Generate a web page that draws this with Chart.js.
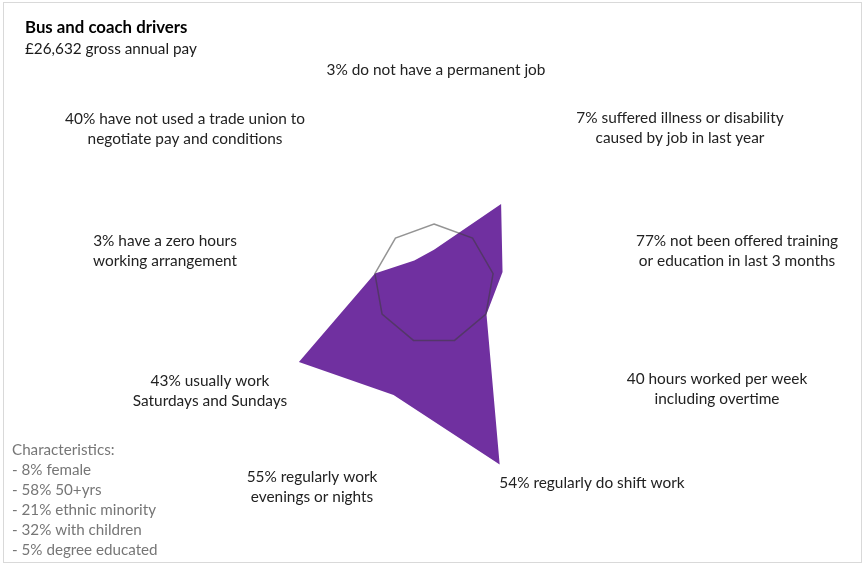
<!DOCTYPE html>
<html>
<head>
<meta charset="utf-8">
<script src="https://cdn.jsdelivr.net/npm/chart.js@4.4.1/dist/chart.umd.min.js"></script>
<style>
  html, body { margin: 0; padding: 0; background: #ffffff; }
  #wrap { position: relative; width: 864px; height: 565px; }
  canvas { display: block; }
</style>
</head>
<body>
<div id="wrap"><canvas id="radar" width="864" height="565"></canvas></div>
<script>
// Job-quality indicators, clockwise from the top
const categories = [
  ['3% do not have a permanent job'],
  ['7% suffered illness or disability', 'caused by job in last year'],
  ['77% not been offered training', 'or education in last 3 months'],
  ['40 hours worked per week', 'including overtime'],
  ['54% regularly do shift work'],
  ['55% regularly work', 'evenings or nights'],
  ['43% usually work', 'Saturdays and Sundays'],
  ['3% have a zero hours', 'working arrangement'],
  ['40% have not used a trade union to', 'negotiate pay and conditions']
];

// Occupation values relative to the all-jobs average (average = 1)
const occupationRelative = [0.57, 1.74, 1.16, 1.01, 3.2, 1.97, 2.6, 1.0, 0.51];
const averageRelative = [1, 1, 1, 1, 1, 1, 1, 1, 1];

const titleText = 'Bus and coach drivers';
const subtitleText = '£26,632 gross annual pay';
const characteristics = [
  'Characteristics:',
  '- 8% female',
  '- 58% 50+yrs',
  '- 21% ethnic minority',
  '- 32% with children',
  '- 5% degree educated'
];

// Where each indicator caption sits (centre of the text block)
const captionAnchors = [
  [436, 70], [680, 128], [737, 251], [717, 389], [592, 483],
  [312, 487], [210, 391], [165, 251], [185, 129]
];

const textFont = '"Lato", "Open Sans", sans-serif';

const annotations = {
  id: 'annotations',
  afterDraw(chart) {
    const ctx = chart.ctx;
    ctx.save();
    // frame
    ctx.strokeStyle = '#d9d9d9';
    ctx.lineWidth = 1;
    ctx.strokeRect(3.5, 2.5, 858, 560);

    // title block
    ctx.textAlign = 'left';
    ctx.textBaseline = 'middle';
    ctx.fillStyle = '#000000';
    ctx.font = 'bold 16.8px ' + textFont;
    ctx.fillText(titleText, 25, 28);
    ctx.fillStyle = '#1a1a1a';
    ctx.font = '15.3px ' + textFont;
    ctx.fillText(subtitleText, 25, 49);

    // indicator captions
    ctx.textAlign = 'center';
    ctx.fillStyle = '#222222';
    ctx.font = '15.4px ' + textFont;
    categories.forEach((lines, i) => {
      const [cx, cy] = captionAnchors[i];
      const lh = 20.5;
      const y0 = cy - (lines.length - 1) * lh / 2;
      lines.forEach((t, j) => ctx.fillText(t, cx, y0 + j * lh));
    });

    // characteristics block
    ctx.textAlign = 'left';
    ctx.fillStyle = '#767676';
    ctx.font = '15.2px ' + textFont;
    characteristics.forEach((t, j) => ctx.fillText(t, 12, 450 + j * 20));
    ctx.restore();
  }
};

new Chart(document.getElementById('radar'), {
  type: 'radar',
  data: {
    labels: categories,
    datasets: [
      {
        label: 'All jobs average',
        data: averageRelative,
        fill: false,
        borderColor: 'rgba(60,60,60,0.55)',
        borderWidth: 1.5,
        pointRadius: 0,
        tension: 0
      },
      {
        label: titleText,
        data: occupationRelative,
        fill: true,
        backgroundColor: '#7030A0',
        borderColor: '#7030A0',
        borderWidth: 0,
        pointRadius: 0,
        tension: 0
      }
    ]
  },
  options: {
    responsive: false,
    devicePixelRatio: 1,
    animation: false,
    layout: { padding: { left: 224, right: 220, top: 74, bottom: 71 } },
    plugins: {
      legend: { display: false },
      title: { display: false },
      tooltip: { enabled: false }
    },
    scales: {
      r: {
        min: 0,
        max: 3.5,
        ticks: { display: false },
        grid: { display: false },
        angleLines: { display: false },
        pointLabels: { display: false }
      }
    }
  },
  plugins: [annotations]
});
</script>
</body>
</html>
